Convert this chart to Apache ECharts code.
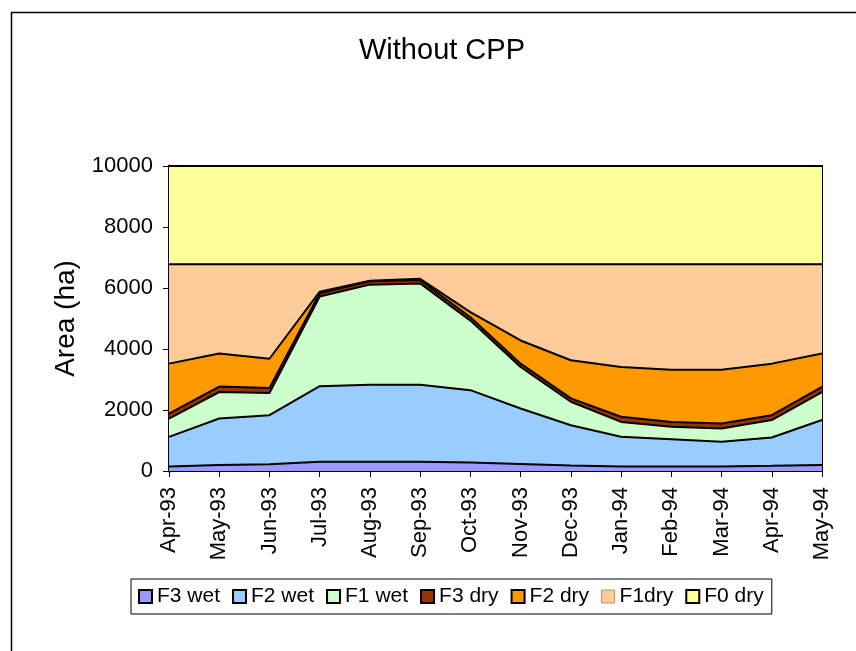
<!DOCTYPE html>
<html>
<head>
<meta charset="utf-8">
<script src="https://cdn.jsdelivr.net/npm/echarts@6/dist/echarts.min.js"></script>
<style>
html,body{margin:0;padding:0;background:#fff;}
#chart{width:856px;height:651px;}
</style>
</head>
<body>
<div id="chart"></div>
<script>
const categories = ['Apr-93','May-93','Jun-93','Jul-93','Aug-93','Sep-93','Oct-93','Nov-93','Dec-93','Jan-94','Feb-94','Mar-94','Apr-94','May-94'];
const f3Wet = [150,200,220,300,300,300,280,230,180,150,150,150,170,200];
const f2Wet = [970,1520,1610,2480,2530,2530,2370,1820,1320,970,890,810,930,1470];
const f1Wet = [600,870,730,2940,3280,3320,2280,1360,770,490,410,430,570,920];
const f3Dry = [160,180,160,110,110,110,110,110,110,170,160,170,160,170];
const f2Dry = [1640,1080,960,50,20,40,170,760,1250,1630,1710,1760,1690,1090];
const f1Dry = [3260,2930,3100,900,540,480,1570,2500,3150,3370,3460,3460,3260,2930];
const f0Dry = [3220,3220,3220,3220,3220,3220,3220,3220,3220,3220,3220,3220,3220,3220];
const yTicks = [0,2000,4000,6000,8000,10000];

const seriesDefs = [
  {name:'F3 wet', data:f3Wet, color:'#9999FF'},
  {name:'F2 wet', data:f2Wet, color:'#99CCFF'},
  {name:'F1 wet', data:f1Wet, color:'#CCFFCC'},
  {name:'F3 dry', data:f3Dry, color:'#993300'},
  {name:'F2 dry', data:f2Dry, color:'#FF9900'},
  {name:'F1dry', data:f1Dry, color:'#FFCC99'},
  {name:'F0 dry', data:f0Dry, color:'#FFFF99'}
];

const chart = echarts.init(document.getElementById('chart'), null, {renderer:'canvas'});
const font = 'Liberation Sans, Arial, sans-serif';
chart.setOption({
  animation:false,
  backgroundColor:'#fff',
  graphic:[{
    type:'rect', shape:{x:11.5,y:12.5,width:900,height:700},
    style:{fill:'none',stroke:'#000',lineWidth:1.5}, z:-1
  }],
  title:{
    text:'Without CPP', left:354, top:31,
    textStyle:{fontFamily:font,fontSize:29,fontWeight:'normal',color:'#000'}
  },
  legend:{
    left:131, top:579, orient:'horizontal',
    padding:[7,8,7,7],
    borderColor:'#000', borderWidth:1,
    itemWidth:13, itemHeight:13, itemGap:12,
    textStyle:{fontFamily:font,fontSize:21,color:'#000'},
    data: seriesDefs.map(s=>({name:s.name, icon:'rect',
      itemStyle:{color:s.color, borderColor: s.name==='F1dry' ? '#B09070' : '#000', borderWidth: s.name==='F1dry' ? 1 : 2}}))
  },
  grid:{left:169, right:34, top:166, bottom:180, show:true, borderColor:'#000', borderWidth:2, backgroundColor:'transparent'},
  xAxis:{
    type:'category', data:categories, boundaryGap:false,
    axisLine:{show:true,lineStyle:{color:'#000',width:2}},
    axisTick:{show:true,inside:false,length:6,alignWithLabel:true,lineStyle:{color:'#000',width:1}},
    axisLabel:{rotate:90,margin:16,fontFamily:font,fontSize:22,color:'#000',interval:0},
    splitLine:{show:false}
  },
  yAxis:{
    type:'value', min:yTicks[0], max:yTicks[yTicks.length-1], interval:2000,
    name:'Area (ha)', nameLocation:'middle', nameGap:89,
    nameTextStyle:{fontFamily:font,fontSize:28,color:'#000'},
    axisLine:{show:true,lineStyle:{color:'#000',width:3}},
    axisTick:{show:true,inside:false,length:6,lineStyle:{color:'#000',width:1}},
    axisLabel:{margin:16,fontFamily:font,fontSize:22,color:'#000',formatter:v=>String(v)},
    splitLine:{show:false}
  },
  series: seriesDefs.map(s=>({
    name:s.name, type:'line', stack:'total', data:s.data,
    symbol:'none', smooth:false,
    lineStyle:{color:'#000', width:2},
    itemStyle:{color:s.color},
    areaStyle:{color:s.color, opacity:1}
  }))
});
</script>
</body>
</html>
